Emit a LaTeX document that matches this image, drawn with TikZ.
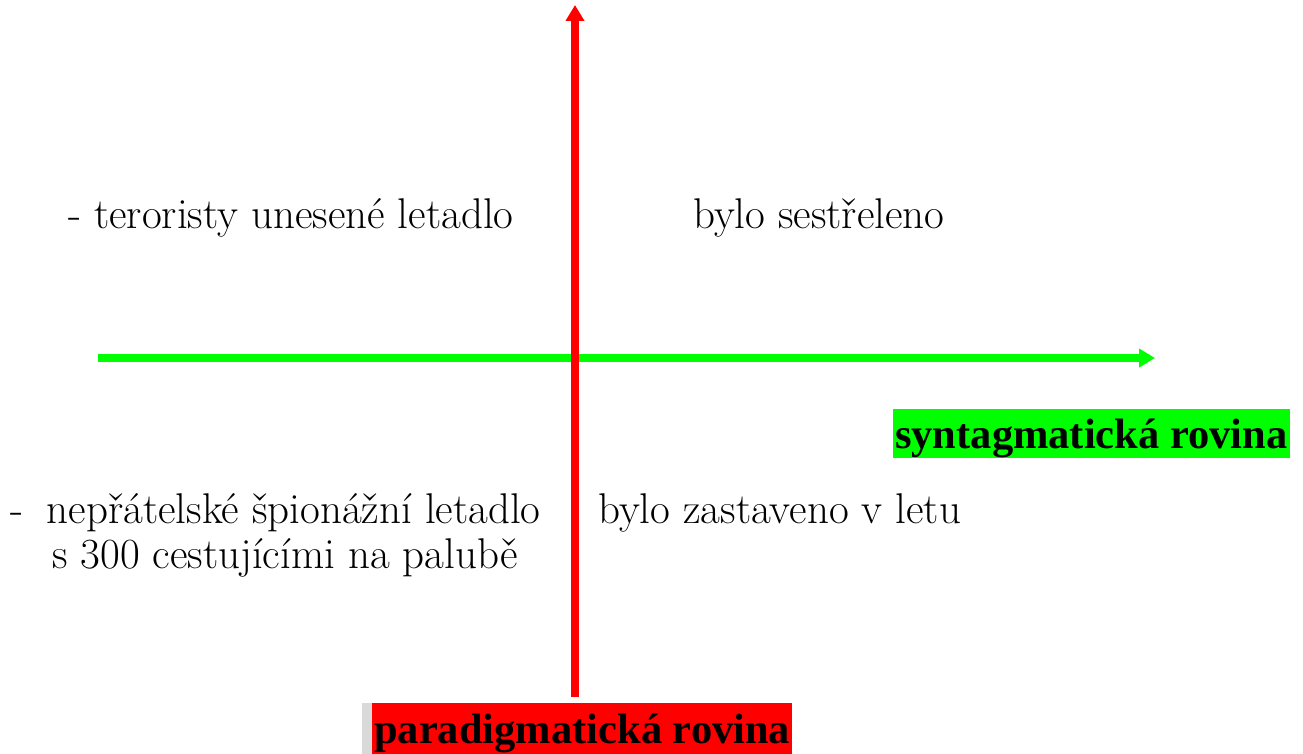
\documentclass[tikz,border=0pt]{standalone}
\usepackage{fontspec}
\newfontfamily\tnr{Latin Modern Roman}
\newfontfamily\tnb{Liberation Serif}[UprightFont=* Bold]
\usetikzlibrary{arrows.meta}
\definecolor{axgreen}{RGB}{0,255,0}
\definecolor{axred}{RGB}{255,0,0}
\definecolor{stripgrey}{RGB}{217,217,217}
\begin{document}
\begin{tikzpicture}[x=1pt,y=-1pt,
  txt/.style={anchor=base west,inner sep=0pt,font=\tnr\fontsize{43}{49}\selectfont},
  lbl/.style={anchor=base west,inner xsep=2pt,inner ysep=0pt,font=\tnb\fontsize{42.5}{48}\selectfont},
  axis/.style={line width=8pt,-{Triangle[length=16pt,width=18pt]}}]
\useasboundingbox (0,0) rectangle (1303,754);
% coordinates of axes
\coordinate (gstart) at (98,358);
\coordinate (gend) at (1155,358);
\coordinate (rstart) at (575,697);
\coordinate (rend) at (575,5);
\draw[axis,axgreen] (gstart) -- (gend);
\draw[axis,axred] (rstart) -- (rend);
% texts
\node[txt] (t1) at (68,228) {- teroristy unesené letadlo};
\node[txt] (t2) at (693,228) {bylo sestřeleno};
\node[txt] (t3) at (10,523) {-\hspace{0.25em} nepřátelské špionážní letadlo};
\node[txt] (t4) at (52,568) {s 300 cestujícími na palubě};
\node[txt] (t5) at (598,523) {bylo zastaveno v letu};
% labels
\node[lbl,fill=axgreen,text height=39pt,text depth=10pt] (syn) at (893,448) {syntagmatická rovina};
\fill[stripgrey] (362,703) rectangle (372,754);
\node[lbl,fill=axred,text height=40pt,text depth=14pt] (par) at (372,743) {paradigmatická rovina};
\end{tikzpicture}
\end{document}
